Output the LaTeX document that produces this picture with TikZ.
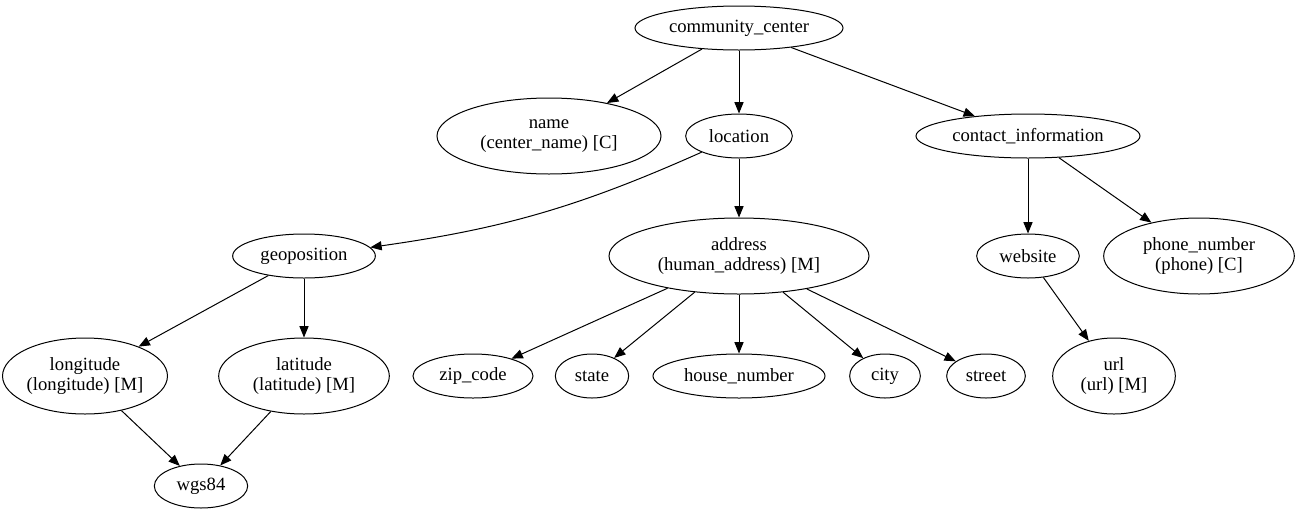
\documentclass[tikz,border=0pt]{standalone}
\usepackage{fontspec}
\setmainfont{Liberation Serif}
\usetikzlibrary{arrows.meta,shapes.geometric}
\tikzset{
  % tree nodes
  leaf/.style={ellipse,draw,line width=0.75pt,inner sep=0pt,align=center,
               minimum height=33pt,font=\fontsize{14}{15}\selectfont},
  tall/.style={leaf,minimum height=57pt},
  % tree edges
  treeedge/.style={line width=0.75pt,-{Triangle[length=8.5pt,width=6.8pt]}},
}

\begin{document}
\begin{tikzpicture}[x=0.75pt,y=-0.75pt]
\useasboundingbox (0,0) rectangle (1300,515);
\node[leaf,minimum width=156pt] (center) at (739,28) {community\_center};
\node[tall,minimum width=168pt] (name) at (549,136) {name\\(center\_name) [C]};
\node[leaf,minimum width=80pt] (location) at (739,136) {location};
\node[leaf,minimum width=168pt] (contact) at (1028,136) {contact\_information};
\node[leaf,minimum width=107pt] (geo) at (304,256) {geoposition};
\node[tall,minimum width=195pt] (address) at (739,256) {address\\(human\_address) [M]};
\node[leaf,minimum width=77pt] (website) at (1028,256) {website};
\node[tall,minimum width=143pt] (phone) at (1199,256) {phone\_number\\(phone) [C]};
\node[tall,minimum width=121pt] (lon) at (85,376) {longitude\\(longitude) [M]};
\node[tall,minimum width=128pt] (lat) at (304,376) {latitude\\(latitude) [M]};
\node[leaf,minimum width=90pt] (zip) at (473,376) {zip\_code};
\node[leaf,minimum width=55pt] (state) at (592,376) {state};
\node[leaf,minimum width=129pt] (house) at (739,376) {house\_number};
\node[leaf,minimum width=53pt] (city) at (885,376) {city};
\node[leaf,minimum width=59pt] (street) at (986,376) {street};
\node[tall,minimum width=92pt] (url) at (1114,376) {url\\(url) [M]};
\node[leaf,minimum width=70pt] (wgs) at (201,486) {wgs84};

\draw[treeedge] (center) -- (name);
\draw[treeedge] (center) -- (location);
\draw[treeedge] (center) -- (contact);
\draw[treeedge] (location) to[bend left=8] (geo);
\draw[treeedge] (location) -- (address);
\draw[treeedge] (contact) -- (website);
\draw[treeedge] (contact) -- (phone);
\draw[treeedge] (geo) -- (lon);
\draw[treeedge] (geo) -- (lat);
\foreach \leafname in {zip,state,house,city,street}
  \draw[treeedge] (address) -- (\leafname);
\draw[treeedge] (website) -- (url);
\draw[treeedge] (lon) -- (wgs);
\draw[treeedge] (lat) -- (wgs);
\end{tikzpicture}
\end{document}
